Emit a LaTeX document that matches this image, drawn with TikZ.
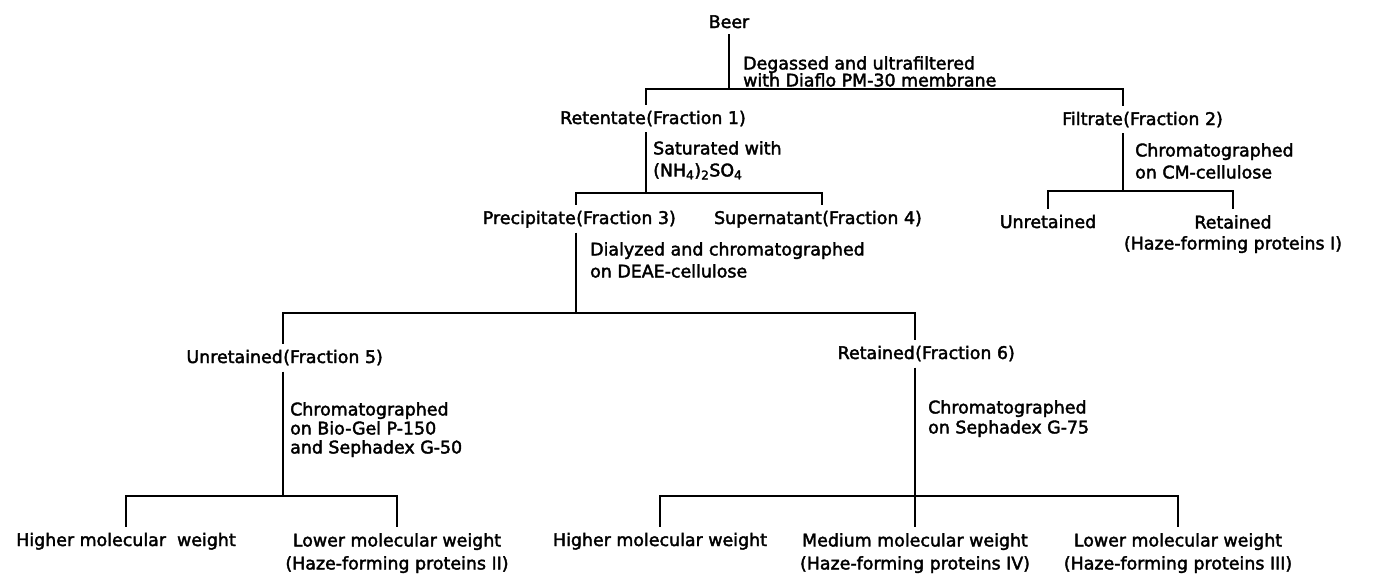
\documentclass[tikz,border=0pt]{standalone}
\usepackage{fontspec}
\setmainfont{DejaVu Sans}[FakeBold=2.2]
\tikzset{
  stage/.style={font=\fontsize{17.4}{20}\selectfont,inner xsep=0pt,inner ysep=6pt},
  stage2/.style={stage,align=center},
  note/.style={font=\fontsize{17.4}{20}\selectfont,inner sep=0pt,align=left,anchor=north west},
  branch/.style={draw=black,line width=1.6pt}
}
\begin{document}
\begin{tikzpicture}[x=1pt,y=1pt]
  \fill[white] (0,0) rectangle (1376,-574);
  \useasboundingbox (0,0) rectangle (1376,-574);
  % beer, ultrafiltration
  \node[stage,anchor=base] (beer) at (729,-28) {Beer};
  \node[note] (n1) at (743,-56) {Degassed and ultrafiltered\\[-3pt]with Diaflo PM-30 membrane};
  \node[stage,anchor=base east] (ret) at (646,-124) {Retentate};
  \node[stage,anchor=base west] (retf) at (ret.base east) {(Fraction 1)};
  \node[stage,anchor=base east] (fil) at (1123,-125) {Filtrate};
  \node[stage,anchor=base west] (filf) at (fil.base east) {(Fraction 2)};
  \coordinate (j1) at (729,-89);
  \draw[branch] (beer.south) -- (j1);
  \draw[branch] (retf.north west) |- (j1) -| (filf.north west);
  % retentate
  \node[note] (n2) at (653,-141) {Saturated with\\[2pt](NH\textsubscript{4})\textsubscript{2}SO\textsubscript{4}};
  \node[stage,anchor=base east] (pre) at (576,-224) {Precipitate};
  \node[stage,anchor=base west] (pref) at (pre.base east) {(Fraction 3)};
  \node[stage,anchor=base east] (sup) at (822,-224) {Supernatant};
  \node[stage,anchor=base west] (supf) at (sup.base east) {(Fraction 4)};
  \coordinate (j2) at (646,-193);
  \draw[branch] (retf.south west) -- (j2);
  \draw[branch] (pref.north west) |- (j2) -| (supf.north west);
  % filtrate
  \node[note] (n3) at (1135,-143) {Chromatographed\\[2pt]on CM-cellulose};
  \node[stage,anchor=base] (unr) at (1048,-228) {Unretained};
  \node[stage2,anchor=north] (ret1) at (1233,-209) {Retained\\[1pt](Haze-forming proteins I)};
  \coordinate (j3) at (1123,-191);
  \draw[branch] (filf.south west) -- (j3);
  \draw[branch] (unr.north) |- (j3) -| (ret1.north);
  % precipitate
  \node[note] (n4) at (590,-242) {Dialyzed and chromatographed\\[2pt]on DEAE-cellulose};
  \node[stage,anchor=base east] (unr5) at (283,-363) {Unretained};
  \node[stage,anchor=base west] (unr5f) at (unr5.base east) {(Fraction 5)};
  \node[stage,anchor=base east] (ret6) at (915,-359) {Retained};
  \node[stage,anchor=base west] (ret6f) at (ret6.base east) {(Fraction 6)};
  \coordinate (j4) at (576,-313);
  \draw[branch] (pref.south west) -- (j4);
  \draw[branch] (unr5f.north west) |- (j4) -| (ret6f.north west);
  % fraction 5
  \node[note] (n5) at (290,-402) {Chromatographed\\[-1pt]on Bio-Gel P-150\\[-1pt]and Sephadex G-50};
  \node[stage,anchor=base] (hi5) at (126,-546) {Higher molecular\ \ weight};
  \node[stage2,anchor=north] (lo5) at (397,-527) {Lower molecular weight\\[3pt](Haze-forming proteins\ II)};
  \coordinate (j5) at (283,-496);
  \draw[branch] (unr5f.south west) -- (j5);
  \draw[branch] (hi5.north) |- (j5) -| (lo5.north);
  % fraction 6
  \node[note] (n6) at (928,-400) {Chromatographed\\on Sephadex G-75};
  \node[stage,anchor=base] (hi6) at (660,-546) {Higher molecular weight};
  \node[stage2,anchor=north] (med6) at (915,-527) {Medium molecular weight\\[3pt](Haze-forming proteins\ IV)};
  \node[stage2,anchor=north] (lo6) at (1178,-527) {Lower molecular weight\\[3pt](Haze-forming proteins III)};
  \coordinate (j6) at (915,-496);
  \draw[branch] (ret6f.south west) -- (med6.north);
  \draw[branch] (hi6.north) |- (j6) -| (lo6.north);
\end{tikzpicture}
\end{document}
